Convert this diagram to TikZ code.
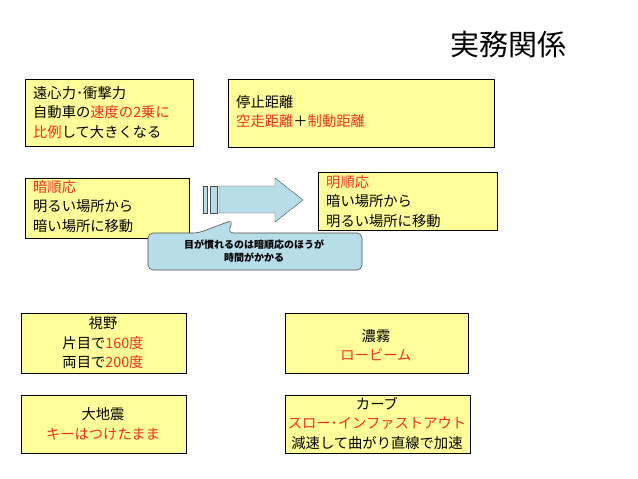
\documentclass[tikz,border=0pt]{standalone}
\usepackage{fontspec}
\setmainfont{Noto Sans CJK JP}
\usetikzlibrary{shapes.arrows}
\definecolor{boxy}{HTML}{FFFF99}
\definecolor{rd}{HTML}{F03020}
\definecolor{callb}{HTML}{B7DEE8}
\begin{document}
\begin{tikzpicture}[x=1pt,y=-1pt,
  yb/.style={draw=black,fill=boxy,line width=0.6pt},
  tx/.style={font=\fontsize{14.3}{19.5}\selectfont,inner sep=0pt},
  r/.style={}]
\useasboundingbox (0,0) rectangle (638,479);
\node[tx,font=\fontsize{29}{32}\selectfont] (title) at (508,44) {実務関係};
% box1
\draw[yb] (25,79) rectangle (193,146);
\node[tx,anchor=north west,align=left] (t1) at (33,86) {遠心力･衝撃力\\自動車の\textcolor{rd}{速度の2乗に}\\\textcolor{rd}{比例}して大きくなる};
% box2
\draw[yb] (228,79) rectangle (494,147);
\node[tx,anchor=north west,align=left] (t2) at (236,95) {停止距離\\\textcolor{rd}{空走距離}＋\textcolor{rd}{制動距離}};
% box3
\draw[yb] (25,178) rectangle (189,238);
\node[tx,anchor=north west,align=left] (t3) at (33,180) {\textcolor{rd}{暗順応}\\明るい場所から\\暗い場所に移動};
% box4
\draw[yb] (318,172) rectangle (497,230);
\node[tx,anchor=north west,align=left] (t4) at (326,175) {\textcolor{rd}{明順応}\\暗い場所から\\明るい場所に移動};
% striped arrow
\draw[fill=callb,draw=black!70] (203,186) rectangle (207,213);
\draw[fill=callb,draw=black!70] (210,186) rectangle (217,213);
\draw[fill=callb,draw=black!70] (219,186) -- (275,186) -- (275,178) -- (303,200) -- (275,222) -- (275,213) -- (219,213) -- cycle;
% callout
\draw[fill=callb,draw=black!70,rounded corners=5pt,line width=0.6pt] (148,233) -- (198,233) -- (233,220) -- (228,233) -- (362,233) -- (362,270) -- (148,270) -- cycle;
\node[tx,font=\bfseries\fontsize{10}{13}\selectfont,align=center] (c) at (254,251) {目が慣れるのは暗順応のほうが\\時間がかかる};
% box5
\draw[yb] (21,313) rectangle (186,373);
\node[tx,align=center] (t5) at (103,343) {視野\\片目で\textcolor{rd}{160度}\\両目で\textcolor{rd}{200度}};
% box6
\draw[yb] (285,313) rectangle (468,373);
\node[tx,align=center] (t6) at (376,345) {濃霧\\\textcolor{rd}{ロービーム}};
% box7
\draw[yb] (21,395) rectangle (186,453);
\node[tx,align=center] (t7) at (103,424) {大地震\\\textcolor{rd}{キーはつけたまま}};
% box8
\draw[yb] (285,395) rectangle (470,453);
\node[tx,align=center] (t8) at (377,423) {カーブ\\\textcolor{rd}{スロー･インファストアウト}\\減速して曲がり直線で加速};
\end{tikzpicture}
\end{document}
